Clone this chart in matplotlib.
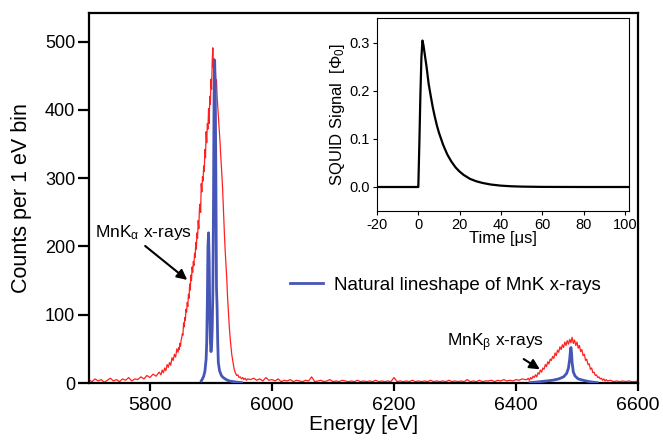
import matplotlib
matplotlib.use("Agg")
import matplotlib.pyplot as plt
import numpy as np
from matplotlib.lines import Line2D

plt.rcParams['font.family'] = ['Liberation Sans', 'DejaVu Sans']
plt.rcParams['mathtext.fontset'] = 'custom'
plt.rcParams['mathtext.rm'] = 'Liberation Sans'
plt.rcParams['mathtext.it'] = 'Liberation Sans'
plt.rcParams['mathtext.sf'] = 'DejaVu Sans'
plt.rcParams['axes.unicode_minus'] = False

# ---------------- data ----------------
# measured spectrum, region A (baseline before K-alpha)
red_e_a = [5700, 5705, 5710, 5715, 5720, 5725, 5730, 5735, 5740, 5745, 5750, 5755,
           5760, 5765, 5770, 5775, 5780, 5785, 5790, 5795, 5800, 5805, 5810, 5815]
red_c_a = [4, 2, 6, 3, 5, 1, 4, 7, 3, 5, 2, 6, 4, 8, 3, 6, 5, 9, 6, 11, 8, 13, 10, 16]

# region B1 (rising foot of K-alpha)
red_e_b1 = [5818, 5820, 5822, 5824, 5826, 5828, 5830, 5832, 5834, 5836, 5838,
            5840, 5842, 5844]
red_c_b1 = [12, 19, 15, 22, 18, 27, 23, 30, 26, 37, 33, 42, 38, 50]

# region B2 (K-alpha peak, 1 eV bins from 5846 to 5930 eV)
red_e_b2 = list(range(5846, 5931))
red_c_b2 = [45, 52, 49, 58, 54, 63, 66, 72, 70, 88, 82, 96, 92, 108, 104, 118,
            112, 130, 124, 145, 136, 158, 150, 170, 162, 178, 172, 190, 184, 206,
            196, 220, 212, 238, 226, 255, 262, 250, 292, 280, 302, 296, 318, 310,
            342, 330, 368, 352, 380, 372, 402, 380, 420, 408, 445, 430, 472, 491,
            462, 475, 450, 462, 435, 444, 420, 405, 392, 378, 362, 350, 332, 318,
            302, 285, 262, 240, 218, 198, 182, 165, 150, 128, 112, 95, 82]

# region B3 (falling tail of K-alpha)
red_e_b3 = [5932, 5934, 5936, 5938, 5940, 5942, 5944, 5946, 5948, 5950, 5952,
            5954, 5956, 5958, 5960]
red_c_b3 = [60, 42, 31, 20, 15, 11, 12, 8, 9, 6, 8, 5, 7, 4, 6]

# region C (flat baseline between the lines)
red_e_c = list(range(5965, 6420, 5))
red_c_c = [5, 7, 4, 6, 3, 8, 4, 5, 3, 6, 2, 4, 3, 5, 2, 4, 3, 2, 4, 3,
           9, 2, 3, 4, 2, 3, 5, 2, 3, 2, 4, 3, 2, 3, 2, 4, 2, 3, 2, 3,
           2, 4, 2, 3, 2, 3, 2, 8, 2, 3, 2, 3, 2, 4, 2, 3, 2, 3, 2, 4,
           2, 3, 2, 3, 2, 4, 2, 3, 2, 3, 2, 5, 2, 3, 2, 4, 2, 3, 3, 4,
           2, 4, 3, 5, 3, 4, 3, 5, 4, 6, 5]

# region D (K-beta peak)
red_e_d = list(range(6418, 6552, 2))
red_c_d = [5, 7, 4, 8, 6, 10, 8, 12, 9, 15, 13, 19, 16, 22, 20, 27, 24, 31,
           28, 35, 33, 39, 36, 44, 40, 48, 45, 53, 49, 56, 52, 60, 55, 62,
           57, 64, 59, 67, 58, 63, 55, 60, 51, 55, 46, 49, 40, 42, 33, 35,
           27, 28, 20, 22, 15, 16, 11, 12, 8, 9, 6, 7, 4, 6, 3, 5, 3]

# region E (tail)
red_e_e = [6555, 6560, 6565, 6570, 6575, 6580, 6585, 6590, 6595, 6600]
red_c_e = [4, 2, 3, 2, 3, 2, 3, 2, 2, 3]

# natural lineshape, K-alpha
blue_e_a = [5884, 5886, 5888, 5890, 5892, 5893, 5894, 5895, 5896, 5897, 5898,
            5899, 5900, 5901, 5902, 5903, 5904, 5905, 5906, 5907, 5908, 5909,
            5910, 5911, 5912, 5914, 5917, 5920, 5925, 5930, 5940, 5950]
blue_c_a = [3, 6, 10, 17, 35, 60, 120, 200, 220, 180, 100,
            60, 46, 55, 80, 130, 250, 420, 473, 430, 300, 140,
            110, 60, 30, 18, 11, 8, 5, 3, 1.5, 0.5]

# natural lineshape, K-beta
blue_e_b = [6423, 6440, 6460, 6470, 6478, 6483, 6486, 6488, 6489, 6490, 6491,
            6492, 6494, 6497, 6502, 6510, 6520, 6533]
blue_c_b = [0.5, 2, 4, 6, 9, 14, 22, 35, 45, 52, 45, 30, 16, 10, 6, 4, 2, 0.5]

# inset: SQUID pulse
pulse_t = [-20, -0.2, 0, 0.5, 1, 1.5, 2, 2.5, 3, 4, 5, 6, 7, 8, 9, 10, 12, 14,
           16, 18, 20, 22, 25, 28, 31, 35, 40, 45, 50, 60, 80, 102]
pulse_v = [0, 0, 0.0, 0.09, 0.19, 0.27, 0.305, 0.295, 0.28, 0.25, 0.215, 0.19,
           0.166, 0.146, 0.128, 0.113, 0.088, 0.068, 0.053, 0.041, 0.032, 0.025,
           0.017, 0.012, 0.0085, 0.0052, 0.0028, 0.0015, 0.0008, 0.0002, 0, 0]

x_ticks = [5800, 6000, 6200, 6400, 6600]
y_ticks = [0, 100, 200, 300, 400, 500]
inset_x_ticks = [-20, 0, 20, 40, 60, 80, 100]
inset_y_ticks = [0.0, 0.1, 0.2, 0.3]

RED = '#ff2020'
BLUE = '#4656b6'

# ---------------- figure ----------------
fig = plt.figure(figsize=(6.63, 4.44), dpi=100)
ax = fig.add_axes([89 / 663, 61 / 444, 549 / 663, 370 / 444])

red_e = red_e_a + red_e_b1 + red_e_b2 + red_e_b3 + red_e_c + red_e_d + red_e_e
red_c = red_c_a + red_c_b1 + red_c_b2 + red_c_b3 + red_c_c + red_c_d + red_c_e
ax.plot(red_e, red_c, color=RED, lw=0.9, zorder=2)
ax.plot(blue_e_a, blue_c_a, color=BLUE, lw=2.0, zorder=3, solid_joinstyle='round')
ax.plot(blue_e_b, blue_c_b, color=BLUE, lw=2.0, zorder=3, solid_joinstyle='round')

ax.set_xlim(5700, 6600)
ax.set_ylim(0, 542)
ax.set_xticks(x_ticks)
ax.set_yticks(y_ticks)
ax.tick_params(axis='x', direction='out', length=6, width=1.6, labelsize=14, pad=4)
ax.tick_params(axis='y', direction='out', length=8, width=1.6, labelsize=13, pad=2)
for s in ax.spines.values():
    s.set_linewidth(1.6)
ax.set_xlabel('Energy [eV]', fontsize=15, labelpad=1)
ax.set_ylabel('Counts per 1 eV bin', fontsize=15.5, labelpad=9)

leg_handle = Line2D([], [], color=BLUE, lw=2.0)
ax.legend([leg_handle], ['Natural lineshape of MnK x-rays'], loc='center left',
          bbox_to_anchor=(0.366, 0.265), frameon=False, fontsize=13.5,
          handlelength=1.75, handletextpad=0.6, borderpad=0, borderaxespad=0)

ax.annotate('MnK$_{\\alpha}$ x-rays', xy=(5861, 151), xytext=(5710, 220),
            fontsize=12.5, va='center', ha='left',
            arrowprops=dict(arrowstyle='-|>', color='black', lw=1.5,
                            mutation_scale=15, shrinkA=1, shrinkB=0,
                            relpos=(0.47, 0.0)))
ax.annotate('MnK$_{\\beta}$ x-rays', xy=(6439, 20), xytext=(6287, 59),
            fontsize=12.5, va='center', ha='left',
            arrowprops=dict(arrowstyle='-|>', color='black', lw=1.5,
                            mutation_scale=15, shrinkA=3, shrinkB=0,
                            relpos=(0.71, 0.0)))

# ---------------- inset ----------------
ins = fig.add_axes([377 / 663, 233 / 444, 252 / 663, 193 / 444])
ins.plot(pulse_t, pulse_v, color='black', lw=1.6)
ins.set_xlim(-20, 102)
ins.set_ylim(-0.05, 0.352)
ins.set_xticks(inset_x_ticks)
ins.set_yticks(inset_y_ticks)
ins.set_yticklabels(['0.0', '0.1', '0.2', '0.3'])
ins.tick_params(direction='out', length=3, width=0.8, labelsize=10.5, pad=2)
for s in ins.spines.values():
    s.set_linewidth(0.8)
ins.set_xlabel('Time [μs]', fontsize=12, labelpad=-1)
ins.set_ylabel('SQUID Signal  [$\\Phi_0$]', fontsize=12, labelpad=2)

fig.savefig('out.png', dpi=100)
